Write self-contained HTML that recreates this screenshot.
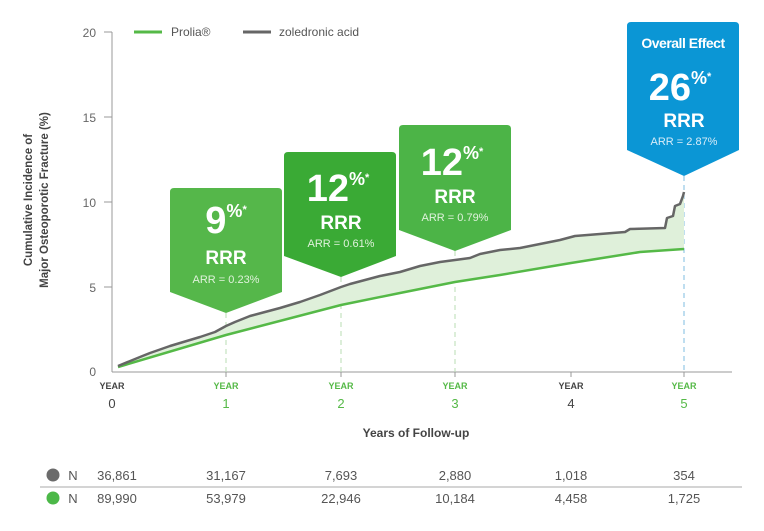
<!DOCTYPE html>
<html><head><meta charset="utf-8"><style>
body{margin:0;background:#fff;}
svg text{font-family:"Liberation Sans",sans-serif;}
</style></head><body>
<svg width="764" height="526" viewBox="0 0 764 526" xmlns="http://www.w3.org/2000/svg">
<!-- axes -->
<line x1="112" y1="32" x2="112" y2="372" stroke="#999" stroke-width="1"/>
<line x1="112" y1="372" x2="732" y2="372" stroke="#999" stroke-width="1"/>
<g stroke="#999"><line x1="104" y1="32" x2="112" y2="32"/><line x1="104" y1="117" x2="112" y2="117"/><line x1="104" y1="202" x2="112" y2="202"/><line x1="104" y1="287" x2="112" y2="287"/>
<line x1="226" y1="372" x2="226" y2="377"/><line x1="341" y1="372" x2="341" y2="377"/><line x1="455" y1="372" x2="455" y2="377"/><line x1="571" y1="372" x2="571" y2="377"/><line x1="684" y1="372" x2="684" y2="377"/></g>
<g font-size="12" fill="#666" text-anchor="end"><text x="96" y="37">20</text><text x="96" y="122">15</text><text x="96" y="207">10</text><text x="96" y="292">5</text><text x="96" y="376">0</text></g>
<text transform="translate(32,200) rotate(-90)" font-size="11.5" font-weight="bold" fill="#444" text-anchor="middle">Cumulative Incidence of</text>
<text transform="translate(48,200) rotate(-90)" font-size="11.5" font-weight="bold" fill="#444" text-anchor="middle">Major Osteoporotic Fracture (%)</text>
<!-- legend -->
<line x1="134" y1="32" x2="162" y2="32" stroke="#55b947" stroke-width="3"/>
<text x="171" y="36" font-size="12" fill="#555">Prolia®</text>
<line x1="243" y1="32" x2="271" y2="32" stroke="#666" stroke-width="3"/>
<text x="279" y="36" font-size="12" fill="#555">zoledronic acid</text>
<!-- dashed drops -->
<g stroke-dasharray="5,4" stroke-width="1"><line x1="226" y1="313" x2="226" y2="372" stroke="#b9dcb3"/><line x1="341" y1="277" x2="341" y2="372" stroke="#b9dcb3"/><line x1="455" y1="251" x2="455" y2="372" stroke="#b9dcb3"/><line x1="684" y1="176" x2="684" y2="372" stroke="#7fbde0"/></g>
<!-- fill -->
<polygon fill="#dff0da" points="118,366 140,357 150,353 170,346 200,337 215,332 226,326 235,322 250,316 265,312 280,308 300,302 320,295 341,287 350,284 365,280 380,276 400,272 420,266 440,262 455,260 470,258 480,254 500,250 520,248 540,244 560,240 575,236 600,234 625,232 630,229 665,228 667,218 673,216 675,206 680,204 683,196 684,192 684,249 640,252 571,263 500,275 455,282 400,293 341,305 226,335 118,367"/>
<polyline fill="none" stroke="#55b947" stroke-width="2.5" points="118,367 226,335 341,305 400,293 455,282 500,275 571,263 640,252 684,249"/>
<polyline fill="none" stroke="#666" stroke-width="2.5" stroke-linejoin="round" points="118,366 140,357 150,353 170,346 200,337 215,332 226,326 235,322 250,316 265,312 280,308 300,302 320,295 341,287 350,284 365,280 380,276 400,272 420,266 440,262 455,260 470,258 480,254 500,250 520,248 540,244 560,240 575,236 600,234 625,232 630,229 665,228 667,218 673,216 675,206 680,204 683,196 684,192"/>
<!-- boxes -->
<path d="M174,188 H278 Q282,188 282,192 V292 L226,313 L170,292 V192 Q170,188 174,188 Z" fill="#55b74a"/>
<text x="226" y="233" font-size="38" font-weight="bold" fill="#fff" text-anchor="middle">9<tspan font-size="18" dy="-16">%</tspan><tspan font-size="11" dy="-4">*</tspan></text>
<text x="226" y="264" font-size="19" font-weight="bold" fill="#fff" text-anchor="middle">RRR</text>
<text x="226" y="283" font-size="11" fill="#e0f2dc" text-anchor="middle">ARR = 0.23%</text>
<path d="M288,152 H392 Q396,152 396,156 V256 L341,277 L284,256 V156 Q284,152 288,152 Z" fill="#3aaa35"/>
<text x="338" y="201" font-size="38" font-weight="bold" fill="#fff" text-anchor="middle">12<tspan font-size="18" dy="-16">%</tspan><tspan font-size="11" dy="-4">*</tspan></text>
<text x="341" y="229" font-size="19" font-weight="bold" fill="#fff" text-anchor="middle">RRR</text>
<text x="341" y="247" font-size="11" fill="#e0f2dc" text-anchor="middle">ARR = 0.61%</text>
<path d="M403,125 H507 Q511,125 511,129 V230 L455,251 L399,230 V129 Q399,125 403,125 Z" fill="#4cb447"/>
<text x="452" y="175" font-size="38" font-weight="bold" fill="#fff" text-anchor="middle">12<tspan font-size="18" dy="-16">%</tspan><tspan font-size="11" dy="-4">*</tspan></text>
<text x="455" y="203" font-size="19" font-weight="bold" fill="#fff" text-anchor="middle">RRR</text>
<text x="455" y="221" font-size="11" fill="#e0f2dc" text-anchor="middle">ARR = 0.79%</text>
<path d="M631,22 H735 Q739,22 739,26 V150 L684,176 L627,150 V26 Q627,22 631,22 Z" fill="#0b96d5"/>
<text x="683" y="48" font-size="14" font-weight="bold" fill="#fff" text-anchor="middle" letter-spacing="-0.5">Overall Effect</text>
<text x="680" y="100" font-size="38" font-weight="bold" fill="#fff" text-anchor="middle">26<tspan font-size="18" dy="-16">%</tspan><tspan font-size="11" dy="-4">*</tspan></text>
<text x="684" y="127" font-size="19" font-weight="bold" fill="#fff" text-anchor="middle">RRR</text>
<text x="684" y="145" font-size="11" fill="#d8ecf8" text-anchor="middle">ARR = 2.87%</text>
<!-- x labels -->
<g font-size="9" font-weight="bold" text-anchor="middle"><text x="112" y="389" fill="#444">YEAR</text><text x="226" y="389" fill="#55b947">YEAR</text><text x="341" y="389" fill="#55b947">YEAR</text><text x="455" y="389" fill="#55b947">YEAR</text><text x="571" y="389" fill="#444">YEAR</text><text x="684" y="389" fill="#55b947">YEAR</text></g>
<g font-size="13" text-anchor="middle"><text x="112" y="408" fill="#444">0</text><text x="226" y="408" fill="#55b947">1</text><text x="341" y="408" fill="#55b947">2</text><text x="455" y="408" fill="#55b947">3</text><text x="571" y="408" fill="#444">4</text><text x="684" y="408" fill="#55b947">5</text></g>
<text x="416" y="437" font-size="12" font-weight="bold" fill="#444" text-anchor="middle">Years of Follow-up</text>
<!-- table -->
<circle cx="53" cy="475" r="6.5" fill="#6b6b6b"/><circle cx="53" cy="498" r="6.5" fill="#4cb848"/>
<line x1="40" y1="487" x2="742" y2="487" stroke="#aaa"/>
<g font-size="13" fill="#555" text-anchor="middle">
<text x="73" y="480">N</text><text x="117" y="480">36,861</text><text x="226" y="480">31,167</text><text x="341" y="480">7,693</text><text x="455" y="480">2,880</text><text x="571" y="480">1,018</text><text x="684" y="480">354</text>
<text x="73" y="503">N</text><text x="117" y="503">89,990</text><text x="226" y="503">53,979</text><text x="341" y="503">22,946</text><text x="455" y="503">10,184</text><text x="571" y="503">4,458</text><text x="684" y="503">1,725</text>
</g>
</svg>
</body></html>
